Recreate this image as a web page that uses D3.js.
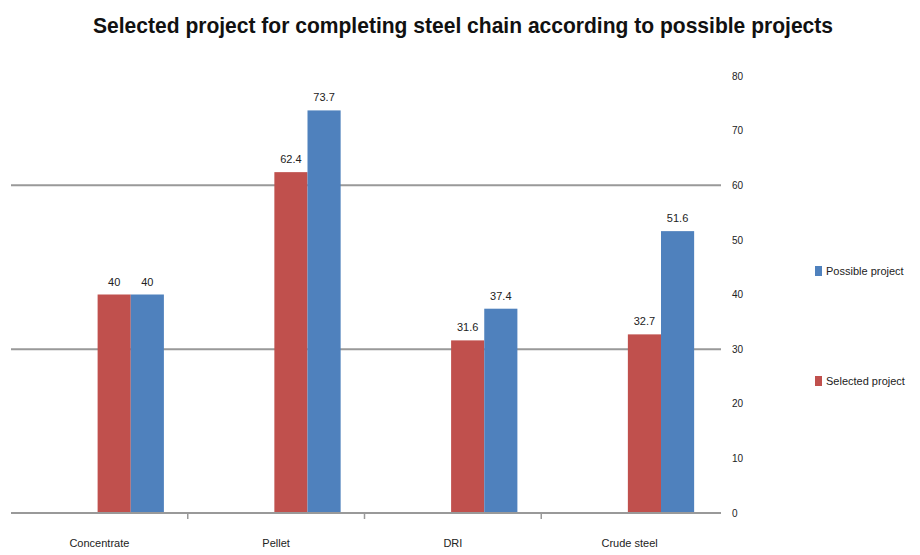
<!DOCTYPE html>
<html>
<head>
<meta charset="utf-8">
<script src="https://cdn.jsdelivr.net/npm/d3@7"></script>
<style>
  body { margin: 0; background: #fff; }
</style>
</head>
<body>
<script>
// Chart data.
const categories = ["Concentrate", "Pellet", "DRI", "Crude steel"];
const seriesNames = ["Selected project", "Possible project"];
const selectedValues = [40, 62.4, 31.6, 32.7];
const possibleValues = [40, 73.7, 37.4, 51.6];
const yTicks = [0, 10, 20, 30, 40, 50, 60, 70, 80];
const gridTicks = [30, 60];

const width = 920;
const height = 555;
const marginLeft = 11;
const plotRight = 718;
const plotTop = 76;
const plotBottom = 513;
const colors = { "Selected project": "#C0504D", "Possible project": "#4F81BD" };

const data = categories.map((c, i) => ({
  category: c,
  values: [
    { key: seriesNames[0], value: selectedValues[i] },
    { key: seriesNames[1], value: possibleValues[i] }
  ]
}));

const svg = d3.select("body").append("svg")
  .attr("width", width)
  .attr("height", height)
  .attr("viewBox", [0, 0, width, height])
  .style("font-family", "'Liberation Sans', sans-serif");

// Scales.
const x0 = d3.scaleBand()
  .domain(categories)
  .range([marginLeft, plotRight])
  .paddingInner(0);

// bars sit right of the category centre, as in the original
const x1 = d3.scaleBand()
  .domain(seriesNames)
  .range([x0.bandwidth() * 0.49, x0.bandwidth() * 0.865]);

const y = d3.scaleLinear()
  .domain([0, 80])
  .range([plotBottom, plotTop]);

// Title
svg.append("text")
  .attr("x", 463)
  .attr("y", 33)
  .attr("text-anchor", "middle")
  .attr("textLength", 740)
  .attr("lengthAdjust", "spacingAndGlyphs")
  .style("font-size", "22px")
  .style("font-weight", "bold")
  .attr("fill", "#111")
  .text("Selected project for completing steel chain according to possible projects");

// Gridlines (only at 30 and 60)
svg.append("g")
  .selectAll("line")
  .data(gridTicks)
  .join("line")
  .attr("x1", marginLeft)
  .attr("x2", plotRight + 3)
  .attr("y1", d => y(d))
  .attr("y2", d => y(d))
  .attr("stroke", "#999")
  .attr("stroke-width", 2);

// Bars
const groups = svg.append("g")
  .selectAll("g")
  .data(data)
  .join("g")
  .attr("transform", d => `translate(${x0(d.category)},0)`);

groups.selectAll("rect")
  .data(d => d.values)
  .join("rect")
  .attr("x", d => x1(d.key))
  .attr("y", d => y(d.value))
  .attr("width", x1.bandwidth())
  .attr("height", d => y(0) - y(d.value))
  .attr("fill", d => colors[d.key]);

groups.selectAll("text")
  .data(d => d.values)
  .join("text")
  .attr("x", d => x1(d.key) + x1.bandwidth() / 2)
  .attr("y", d => y(d.value) - 9)
  .attr("text-anchor", "middle")
  .style("font-size", "11px")
  .attr("fill", "#222")
  .text(d => d.value);

// X axis
const xAxis = svg.append("g")
  .attr("transform", `translate(0,${plotBottom})`)
  .call(d3.axisBottom(x0).tickSize(0).tickPadding(26))
  .call(g => g.select(".domain")
    .attr("d", `M${marginLeft},0H${plotRight + 3}`)
    .attr("stroke", "#999")
    .attr("stroke-width", 2));

xAxis.selectAll(".tick text")
  .style("font-size", "11px")
  .attr("fill", "#222");

// small tick marks between categories
xAxis.append("g")
  .selectAll("line")
  .data(categories.slice(1))
  .join("line")
  .attr("x1", d => x0(d))
  .attr("x2", d => x0(d))
  .attr("y1", 0)
  .attr("y2", 6)
  .attr("stroke", "#999")
  .attr("stroke-width", 1.5);

// Right-side value axis (labels only)
svg.append("g")
  .attr("transform", `translate(${plotRight + 8},0)`)
  .call(d3.axisRight(y).tickValues(yTicks).tickSize(0).tickPadding(6))
  .call(g => g.select(".domain").remove())
  .selectAll(".tick text")
  .style("font-size", "10px")
  .attr("fill", "#222");

// Legend
const legendRows = [
  { key: "Possible project", y: 271 },
  { key: "Selected project", y: 381 }
];
const legend = svg.append("g")
  .selectAll("g")
  .data(legendRows)
  .join("g")
  .attr("transform", d => `translate(815,${d.y})`);

legend.append("rect")
  .attr("x", 0)
  .attr("y", -5)
  .attr("width", 7)
  .attr("height", 10)
  .attr("fill", d => colors[d.key]);

legend.append("text")
  .attr("x", 11)
  .attr("dy", "0.35em")
  .style("font-size", "11px")
  .attr("fill", "#222")
  .text(d => d.key);
</script>
</body>
</html>
